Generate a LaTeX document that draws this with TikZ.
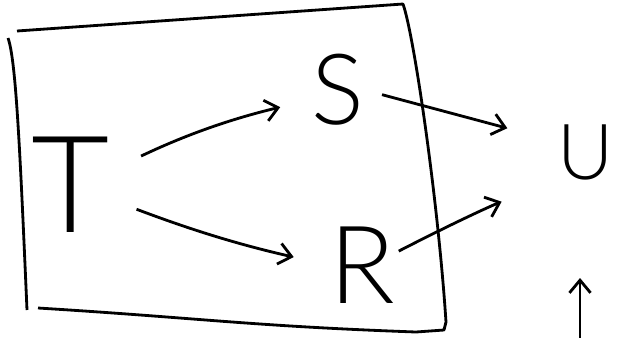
\documentclass[tikz,border=0pt]{standalone}
\usepackage{fontspec}
\newfontfamily\handfont{Lato Light}
\usetikzlibrary{arrows.meta,positioning}
\tikzset{
  letter/.style={inner sep=0pt, text=black},
  arr/.style={line width=2pt, -{Straight Barb[length=9pt,width=15pt,line width=2pt]}},
  frame/.style={line width=2pt, line join=round}
}

\begin{document}
\begin{tikzpicture}[x=0.025cm, y=-0.025cm]
  \useasboundingbox (0,0) rectangle (624,337);

  % box round T, S and R
  \draw[frame] (17,31) -- (403,4) .. controls (414,35) and (438,200) .. (446,322) -- (444,330) -- (416,332) .. controls (250,326) and (200,318) .. (38,308);
  \draw[frame] (8,38) .. controls (16,60) and (20,150) .. (27,310);

  % variables
  \node[letter, font=\handfont\fontsize{96}{96}\selectfont] (T) at (71,185) {T};
  \node[letter, font=\handfont\fontsize{70}{70}\selectfont] (S) at (338,90) {S};
  \node[letter, font=\handfont\fontsize{77}{77}\selectfont] (R) at (362,265) {R};
  \node[letter, font=\handfont\fontsize{55}{55}\selectfont] (U) at (586,152) {U};

  % arrows
  \draw[arr, shorten <=0.85cm, shorten >=0.8cm] (T.20) to[bend left=6] (S.200);
  \draw[arr, shorten <=0.7cm, shorten >=0.9cm] (T.-20) to[bend right=4] (R.west);
  \draw[arr, shorten <=0.45cm, shorten >=1.3cm] (S.east) to (U.160);
  \draw[arr, shorten <=0.1cm, shorten >=1.5cm] (R.20) to[bend left=3] (U.south west);

  % input from below
  \coordinate (uin) at (580,340);
  \draw[arr, shorten >=2.45cm] (uin) -- (uin |- U.south);
\end{tikzpicture}
\end{document}
